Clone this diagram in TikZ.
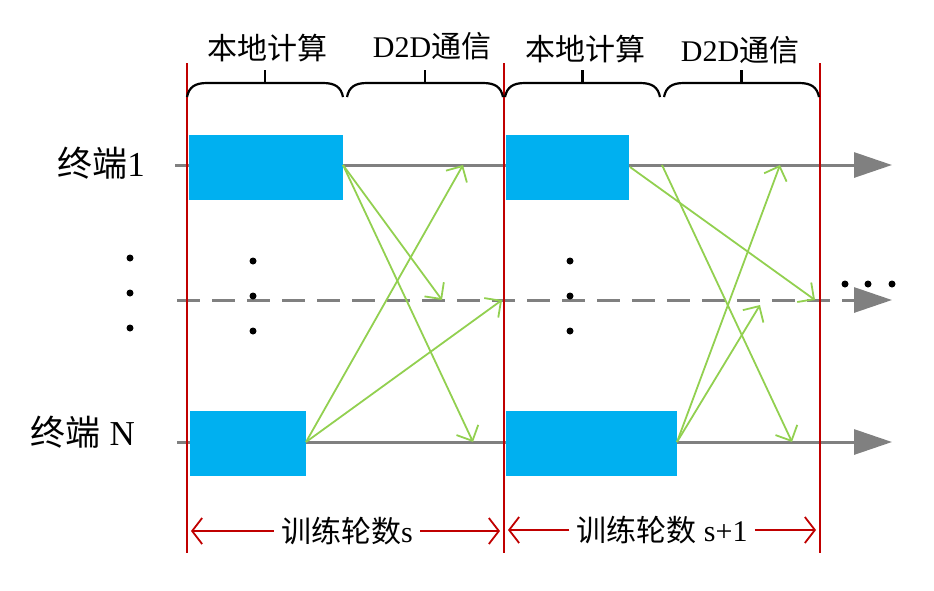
\documentclass[tikz,border=0pt]{standalone}
\usepackage{fontspec}
\setmainfont{Liberation Serif}
\newfontfamily\cjk{Noto Sans CJK SC}
\usetikzlibrary{arrows.meta}
\definecolor{cblue}{HTML}{00B0F0}
\definecolor{cred}{HTML}{C00000}
\definecolor{cgreen}{HTML}{92D050}
\definecolor{cgray}{HTML}{808080}
\begin{document}
\begin{tikzpicture}[x=1pt,y=-1pt,
  box/.style={fill=cblue,draw=none,inner sep=0pt,anchor=north west},
  redline/.style={draw=cred,line width=2.8pt},
  grayline/.style={draw=cgray,line width=3pt,-{Triangle[length=38pt,width=25pt]}},
  dashline/.style={grayline,dash pattern=on 23pt off 12pt},
  msg/.style={draw=cgreen,line width=1.8pt,-{Straight Barb[length=12pt,width=24pt,line width=1.8pt]}},
  redarr/.style={draw=cred,line width=1.8pt,-{Straight Barb[length=10pt,width=26pt,line width=1.8pt]},shorten >=4pt},
  bracestyle/.style={draw=black,line width=2.2pt},
  lbl/.style={font=\fontsize{30}{32}\selectfont,inner sep=0pt},
  side/.style={font=\fontsize{35}{37}\selectfont,inner sep=0pt},
  bot/.style={font=\fontsize{30}{32}\selectfont,inner sep=7pt},
  dot/.style={circle,fill=black,inner sep=0pt,minimum size=7pt}]
\useasboundingbox (0,0) rectangle (934,590);
% red separators
\coordinate (r1t) at (187,63); \coordinate (r1b) at (187,553);
\coordinate (r2t) at (504,63); \coordinate (r2b) at (504,553);
\coordinate (r3t) at (820,63); \coordinate (r3b) at (820,553);
% row lines
\coordinate (l1s) at (175,165); \coordinate (l1e) at (892,165);
\coordinate (lds) at (177,300); \coordinate (lde) at (892,300);
\coordinate (lNs) at (177,442); \coordinate (lNe) at (892,442);
\draw[grayline] (l1s) -- (l1e);
\draw[dashline] (lds) -- (lde);
\draw[grayline] (lNs) -- (lNe);
% blue boxes
\node[box,minimum width=154pt,minimum height=65pt] (b11) at (189,135) {};
\node[box,minimum width=123pt,minimum height=65pt] (b12) at (506,135) {};
\node[box,minimum width=116pt,minimum height=65pt] (bN1) at (190,411) {};
\node[box,minimum width=171pt,minimum height=65pt] (bN2) at (506,411) {};
\draw[redline] (r1t) -- (r1b);
\draw[redline] (r2t) -- (r2b);
\draw[redline] (r3t) -- (r3b);
% message endpoints
\coordinate (s1) at (343,165); \coordinate (sN) at (306,442);
\coordinate (e1) at (442,300); \coordinate (e2) at (473,442);
\coordinate (e3) at (463,165); \coordinate (e4) at (502,300);
\draw[msg] (s1) -- (e1);
\draw[msg] (s1) -- (e2);
\draw[msg] (sN) -- (e3);
\draw[msg] (sN) -- (e4);
\coordinate (t1) at (630,167); \coordinate (t2) at (662,165); \coordinate (tN) at (677,442);
\coordinate (f1) at (815,300); \coordinate (f2) at (792,442);
\coordinate (f3) at (780,165); \coordinate (f4) at (760,305);
\draw[msg] (t1) -- (f1);
\draw[msg] (t2) -- (f2);
\draw[msg] (tN) -- (f3);
\draw[msg] (tN) -- (f4);
% braces
\foreach \a/\b in {187/343,347/503,505/660,664/819}{
  \pgfmathsetmacro{\m}{(\a+\b)/2}
  \draw[bracestyle] (\a,97) .. controls (\a+2,87) and (\a+8,83) .. (\a+20,83)
     -- (\b-20,83) .. controls (\b-8,83) and (\b-2,87) .. (\b,97);
  \draw[bracestyle] (\m,83) -- (\m,70);
}
% top labels
\node[lbl] (c1) at (267,48) {\cjk 本地计算};
\node[lbl] (d1) at (432,46) {D2D\cjk 通信};
\node[lbl] (c2) at (585,49) {\cjk 本地计算};
\node[lbl] (d2) at (740,50) {D2D\cjk 通信};
% left labels
\node[side] (n1) at (101,163) {{\cjk 终端}1};
\node[side] (nN) at (83,432) {{\cjk 终端} N};
% dots
\foreach \y/\k in {258/a,293/b,328/c}{\node[dot] (dl\k) at (130,\y) {};}
\foreach \y/\k in {261/a,296/b,331/c}{\node[dot] (dm\k) at (253,\y) {}; \node[dot] (dr\k) at (570,\y) {};}
\foreach \x/\k in {845/a,868/b,892/c}{\node[dot] (dh\k) at (\x,284) {};}
% bottom labels
\node[bot] (s) at (347,531) {{\cjk 训练轮数}s};
\node[bot] (sp) at (662,530) {{\cjk 训练轮数} s+1};
\draw[redarr] (s.west) -- (s.west -| r1b);
\draw[redarr] (s.east) -- (s.east -| r2b);
\draw[redarr] (sp.west) -- (sp.west -| r2b);
\draw[redarr] (sp.east) -- (sp.east -| r3b);
\end{tikzpicture}
\end{document}
